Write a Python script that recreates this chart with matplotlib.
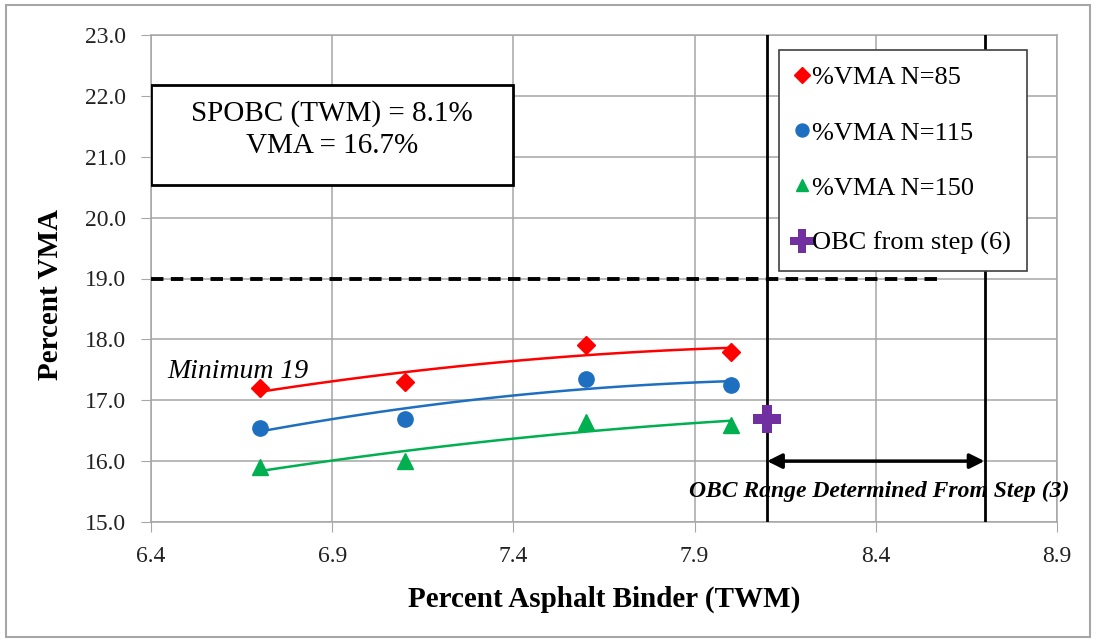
import numpy as np
import matplotlib
matplotlib.use("Agg")
import matplotlib.pyplot as plt
from matplotlib.patches import Rectangle

plt.rcParams['font.family'] = ['Liberation Serif', 'DejaVu Serif']

# data
binder = [6.7, 7.1, 7.6, 8.0]
vma_85 = [17.2, 17.3, 17.9, 17.8]
vma_115 = [16.55, 16.7, 17.35, 17.25]
vma_150 = [15.9, 16.0, 16.65, 16.6]
obc_x, obc_y = 8.1, 16.7
vma_min = 19.0
range_lo, range_hi = 8.1, 8.7

x_ticks = [6.4, 6.9, 7.4, 7.9, 8.4, 8.9]
y_ticks = [15, 16, 17, 18, 19, 20, 21, 22, 23]

series = [
    ("%VMA N=85", vma_85, "#FF0000", "D", 9.5),
    ("%VMA N=115", vma_115, "#1F6FC0", "o", 11),
    ("%VMA N=150", vma_150, "#00B050", "^", 11),
]

fig = plt.figure(figsize=(10.96, 6.42), dpi=100)
ax = fig.add_axes([151 / 1096, 1 - 522 / 642, 906 / 1096, 487 / 642])

# outer chart border
fig.patches.append(Rectangle((6 / 1096, 5 / 642), 1084 / 1096, 632 / 642,
                             transform=fig.transFigure, fill=False,
                             edgecolor="#A6A6A6", linewidth=1.5))

gray = "#A6A6A6"
ax.grid(True, color=gray, linewidth=1.1)
ax.set_axisbelow(True)
for s in ax.spines.values():
    s.set_color(gray)
    s.set_linewidth(1.1)

xs = np.linspace(min(binder), max(binder), 100)
handles = []
for label, vals, color, mk, ms in series:
    # 2nd order polynomial trendline
    c = np.polyfit(binder, vals, 2)
    ax.plot(xs, np.polyval(c, xs), color=color, linewidth=1.8, zorder=3)
    h = ax.plot(binder, vals, linestyle="none", marker=mk, markersize=ms,
                color=color, label=label, zorder=4)[0]
    handles.append(h)

h = ax.plot([obc_x], [obc_y], linestyle="none", marker="P", markersize=20,
            color="#7030A0", markeredgewidth=0, label="OBC from step (6)", zorder=5)[0]
handles.append(h)

ax.plot([6.4, 8.58], [vma_min, vma_min], color="black", linewidth=2.8,
        dashes=(3.2, 1.9), zorder=3)
ax.axvline(range_lo, color="black", linewidth=2, zorder=3)
ax.axvline(range_hi, color="black", linewidth=2, zorder=3)
ax.annotate("", xy=(range_lo, 16.0), xytext=(range_hi, 16.0),
            arrowprops=dict(arrowstyle="<|-|>", color="black", lw=2.5,
                            mutation_scale=22, shrinkA=0, shrinkB=0), zorder=4)

ax.text(8.41, 15.5, "OBC Range Determined From Step (3)", fontsize=17,
        fontweight="bold", fontstyle="italic", ha="center", va="center", zorder=5)
ax.text(6.445, 17.47, "Minimum 19", fontsize=20, fontstyle="italic",
        ha="left", va="center")

ax.add_patch(Rectangle((6.4, 20.54), 1.0, 1.64, facecolor="white",
                       edgecolor="black", linewidth=2, zorder=5))
ax.text(6.9, 21.44, "SPOBC (TWM) = 8.1%\nVMA = 16.7%", fontsize=21,
        ha="center", va="center", linespacing=1.3, zorder=6)

ax.set_xlim(6.4, 8.9)
ax.set_ylim(15, 23)
ax.set_xticks(x_ticks)
ax.set_yticks(y_ticks)
ax.set_xticklabels([f"{v:.1f}" for v in x_ticks])
ax.set_yticklabels([f"{v:.1f}" for v in y_ticks])
ax.tick_params(axis="both", labelsize=17, length=7, color=gray, labelcolor="#222222")
ax.tick_params(axis="y", pad=11)
ax.tick_params(axis="x", pad=10)
ax.set_xlabel("Percent Asphalt Binder (TWM)", fontsize=21, fontweight="bold")
ax.set_ylabel("Percent VMA", fontsize=21, fontweight="bold")
ax.xaxis.set_label_coords((604 - 151) / 906, -(586 - 522) / 487)
ax.yaxis.set_label_coords(-(151 - 64) / 906, (522 - 295) / 487)

leg = ax.legend(handles=handles, loc="upper left", bbox_to_anchor=(0.693, 0.969),
                fontsize=19, frameon=True, fancybox=False, labelspacing=1.2,
                handlelength=0.55, handletextpad=0.1,
                borderpad=0.6, markerscale=0.85, borderaxespad=0)
leg.get_frame().set_edgecolor("#404040")
leg.get_frame().set_linewidth(1.2)
leg.get_frame().set_alpha(1)
leg.set_zorder(10)

fig.savefig("out.png", dpi=100)
